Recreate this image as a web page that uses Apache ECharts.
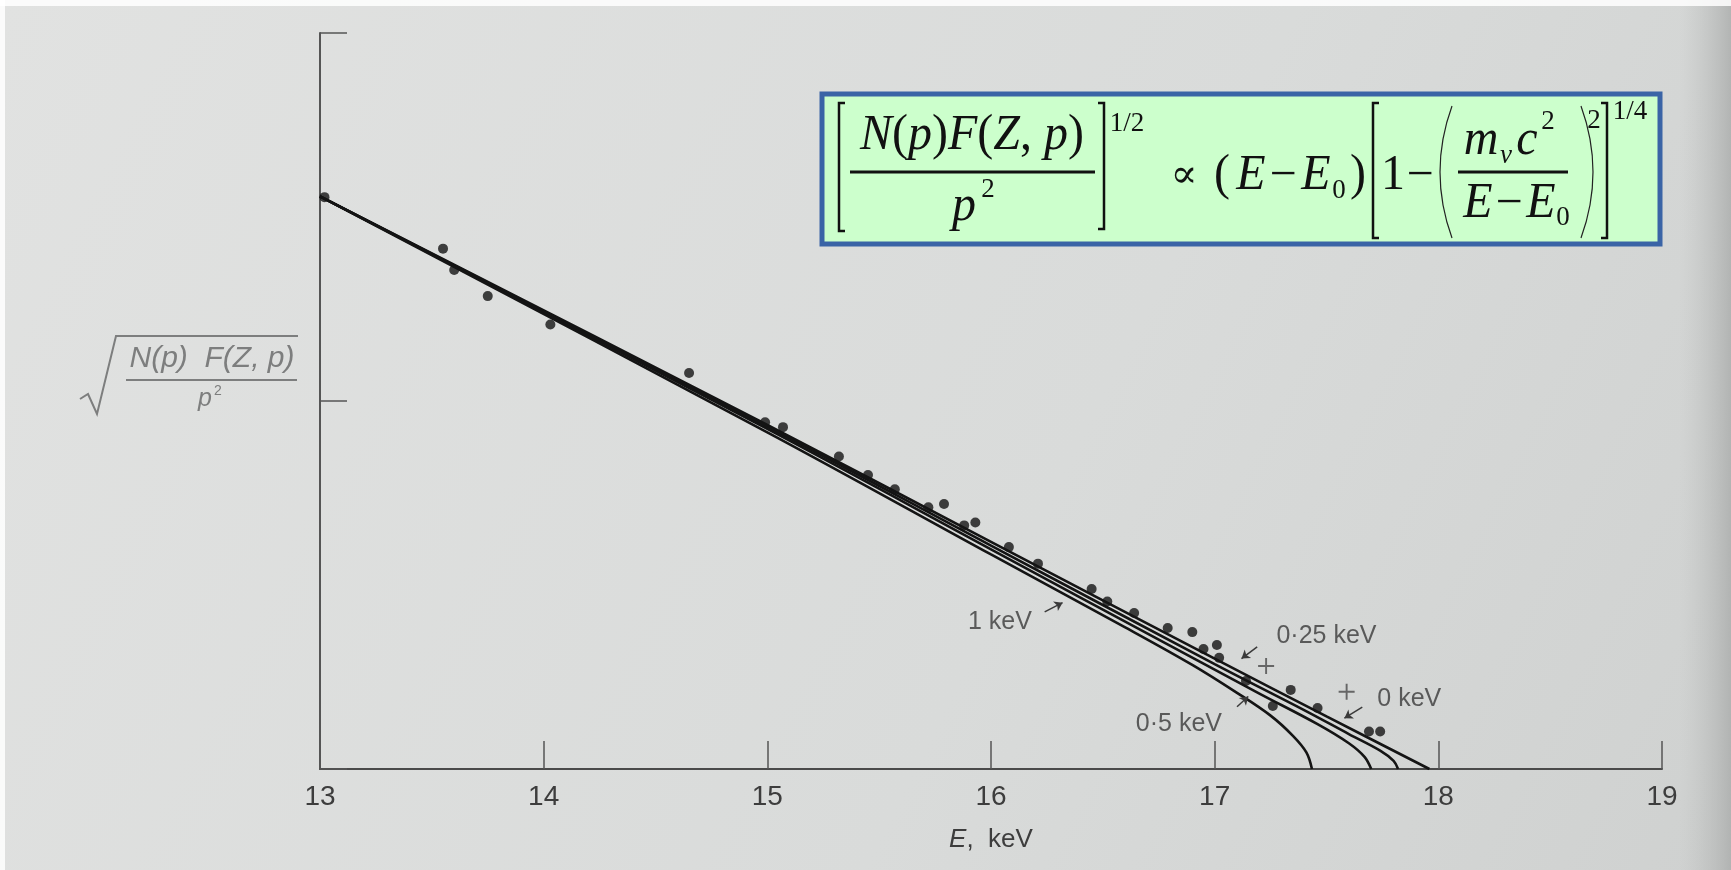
<!DOCTYPE html>
<html><head><meta charset="utf-8">
<script src="https://cdn.jsdelivr.net/npm/echarts@6/dist/echarts.min.js"></script>
<style>html,body{margin:0;padding:0;background:#dcdedd}#c{width:1731px;height:870px}</style>
</head><body><div id="c"></div><script>
// ---------- data ----------
const xTickLabels = ['13','14','15','16','17','18','19'];
const dotE = [13.02,13.55,13.60,13.75,14.03,14.65,14.99,15.07,15.32,15.45,15.57,15.72,15.79,15.88,15.93,16.08,16.21,16.45,16.52,16.64,16.79,16.90,16.95,17.01,17.02,17.14,17.26,17.34,17.46,17.69,17.74];
const dotY = [1.554,1.414,1.356,1.285,1.208,1.076,0.942,0.929,0.849,0.799,0.760,0.711,0.720,0.662,0.670,0.603,0.558,0.489,0.455,0.424,0.383,0.372,0.326,0.337,0.302,0.239,0.171,0.215,0.166,0.102,0.102];
const plusE = [17.23, 17.59];
const plusY = [0.280, 0.210];
const curve0E = [13.0, 15.0, 16.0, 17.0, 17.5, 17.96];
const curve0Y = [1.556, 0.935, 0.617, 0.300, 0.143, 0];
const curve025E = [13.0, 15.0, 16.0, 17.0, 17.4, 17.6, 17.74, 17.80, 17.82];
const curve025Y = [1.556, 0.930, 0.607, 0.285, 0.160, 0.095, 0.050, 0.022, 0];
const curve05E = [13.0, 15.0, 16.0, 16.8, 17.2, 17.46, 17.60, 17.67, 17.70];
const curve05Y = [1.556, 0.924, 0.597, 0.335, 0.205, 0.122, 0.070, 0.033, 0];
const curve1E = [13.0, 15.0, 16.0, 16.6, 16.9, 17.1, 17.25, 17.35, 17.41, 17.435];
const curve1Y = [1.556, 0.915, 0.583, 0.385, 0.283, 0.207, 0.145, 0.090, 0.045, 0];
const annText = ['1 keV', '0·25 keV', '0·5 keV', '0 keV'];
const annE = [16.04, 17.50, 16.84, 17.87];
const annY = [0.398, 0.361, 0.122, 0.190];
const arrowFromE = [16.24, 17.19, 17.10, 17.66];
const arrowFromY = [0.427, 0.332, 0.169, 0.168];
const arrowToE = [16.32, 17.12, 17.15, 17.58];
const arrowToY = [0.452, 0.300, 0.197, 0.138];

const zip = (a, b) => a.map((v, i) => [v, b[i]]);
const ink = '#141414';
const curveStyle = {color: ink, width: 2.6};
const mkCurve = (name, e, y) => ({
  name, type: 'line', data: zip(e, y), showSymbol: false, smooth: 0.35,
  lineStyle: curveStyle, silent: true, z: 3
});

const serif = 'Liberation Serif';
const FS = 48;
const fIt = {fontStyle: 'italic', fontSize: FS, fontFamily: serif, fill: '#111'};
const fRm = {fontSize: FS, fontFamily: serif, fill: '#111'};
const fSm = {fontSize: 27, fontFamily: serif, fill: '#111'};
function T(x, y, text, style, extra) {
  return Object.assign({type: 'text', x, y, z: 20,
    style: Object.assign({text, align: 'center', verticalAlign: 'middle', textAlign: 'center', textVerticalAlign: 'middle'}, style)}, extra || {});
}
function bracket(x0, x1, y0, y1) {
  return {type: 'polyline', z: 20, shape: {points: [[x1, y0], [x0, y0], [x0, y1], [x1, y1]]}, style: {stroke: '#111', lineWidth: 2.5, fill: null}};
}
function paren(xEdge, xMid, y0, y1) {
  return {type: 'bezierCurve', z: 20, shape: {x1: xEdge, y1: y0, x2: xEdge, y2: y1, cpx1: xMid, cpy1: (y0 * 2 + y1) / 3, cpx2: xMid, cpy2: (y0 + y1 * 2) / 3}, style: {stroke: '#222', lineWidth: 1.2, fill: null}};
}
function hline(x0, x1, y, w, c) {
  return {type: 'line', z: 20, shape: {x1: x0, y1: y, x2: x1, y2: y}, style: {stroke: c || '#111', lineWidth: w || 3}};
}
const rich = {
  i: {fontStyle: 'italic', fontSize: FS, fontFamily: serif},
  r: {fontSize: FS, fontFamily: serif}
};
const tall = {scaleY: 1.06};

const formula = [
  {type: 'rect', z: 19, shape: {x: 822, y: 94, width: 838, height: 150}, style: {fill: '#ccffcc', stroke: '#3a64a6', lineWidth: 5}},
  bracket(839, 845, 103, 231),
  T(972, 136, '{i|N}{r|(}{i|p}{r|)}{i|F}{r|(}{i|Z}{r|, }{i|p}{r|)}', {rich, fill: '#111'}, tall),
  hline(850, 1095, 172, 3),
  T(964, 207, 'p', fIt, tall),
  T(988, 190, '2', fSm),
  bracket(1104, 1098, 103, 229),
  T(1127, 124, '1/2', fSm),
  T(1184, 177, '∝', {fontSize: 40, fontFamily: 'DejaVu Serif', fill: '#111'}),
  T(1222, 176, '(', fRm, tall), T(1358, 176, ')', fRm, tall),
  T(1251, 176, 'E', fIt, tall), T(1283, 176, '−', fRm), T(1316, 176, 'E', fIt, tall),
  T(1339, 191, '0', fSm),
  bracket(1373, 1379, 103, 238),
  T(1393, 176, '1', fRm, tall), T(1420, 176, '−', fRm),
  paren(1452, 1436, 106, 238),
  paren(1581, 1597, 106, 238),
  T(1481, 141, 'm', fIt, tall),
  T(1506, 156, 'ν', {fontStyle: 'italic', fontSize: 27, fontFamily: serif, fill: '#111'}),
  T(1527, 141, 'c', fIt, tall),
  T(1548, 122, '2', fSm),
  hline(1458, 1568, 172, 3),
  T(1478, 204, 'E', fIt, tall), T(1509, 204, '−', fRm), T(1541, 204, 'E', fIt, tall),
  T(1563, 218, '0', fSm),
  T(1594, 121, '2', fSm),
  bracket(1607, 1601, 103, 238),
  T(1630, 112, '1/4', fSm)
];

const labGray = '#7d7e7e';
const yLabel = [
  {type: 'polyline', z: 10, shape: {points: [[80, 399], [88, 394], [97, 414], [116, 336], [298, 336]]}, style: {stroke: labGray, lineWidth: 2, fill: null}},
  T(212, 359, 'N(p)  F(Z, p)', {fontStyle: 'italic', fontSize: 30, fontFamily: 'Liberation Sans', fill: labGray}),
  hline(126, 297, 380, 2, labGray),
  T(205, 399, 'p', {fontStyle: 'italic', fontSize: 25, fontFamily: 'Liberation Sans', fill: labGray}),
  T(218, 391, '2', {fontSize: 14, fontFamily: 'Liberation Sans', fill: labGray})
];

const chart = echarts.init(document.getElementById('c'));
chart.setOption({
  animation: false,
  backgroundColor: {type: 'linear', x: 0, y: 0, x2: 1, y2: 1, colorStops: [
    {offset: 0, color: '#e1e2e1'}, {offset: 0.6, color: '#d9dbda'}, {offset: 1, color: '#cfd1d0'}]},
  grid: {left: 320, right: 69, top: 33, bottom: 101},
  xAxis: {
    type: 'value', min: 13, max: 19, interval: 1,
    axisLine: {show: true, lineStyle: {color: '#4a4a4a', width: 2}},
    axisTick: {show: true, inside: true, length: 28, lineStyle: {color: '#555', width: 1.5}},
    axisLabel: {fontSize: 28, color: '#3d3d3d', fontFamily: 'Liberation Sans', margin: 14,
      formatter: v => xTickLabels[Math.round(v - 13)]},
    splitLine: {show: false},
    name: '{i|E},  keV', nameLocation: 'middle', nameGap: 58,
    nameTextStyle: {fontSize: 26, color: '#3d3d3d', fontFamily: 'Liberation Sans', rich: {i: {fontStyle: 'italic', fontSize: 26, color: '#3d3d3d', fontFamily: 'Liberation Sans'}}}
  },
  yAxis: {
    type: 'value', min: 0, max: 2, interval: 1,
    axisLine: {show: true, lineStyle: {color: '#555', width: 2}},
    axisTick: {show: true, inside: true, length: 27, lineStyle: {color: '#555', width: 1.5}},
    axisLabel: {show: false}, splitLine: {show: false}
  },
  series: [
    mkCurve('0 keV', curve0E, curve0Y),
    mkCurve('0.25 keV', curve025E, curve025Y),
    mkCurve('0.5 keV', curve05E, curve05Y),
    mkCurve('1 keV', curve1E, curve1Y),
    {type: 'scatter', data: zip(dotE, dotY), symbolSize: 10, itemStyle: {color: ink}, z: 4, silent: true},
    {type: 'scatter', data: zip(plusE, plusY), symbol: 'path://M4.4,0H5.6V4.4H10V5.6H5.6V10H4.4V5.6H0V4.4H4.4Z', symbolSize: 16, itemStyle: {color: '#4a4a4a'}, z: 4, silent: true},
    {type: 'scatter', silent: true, z: 5,
      data: annE.map((e, i) => ({value: [e, annY[i]], name: annText[i]})),
      symbolSize: 0,
      label: {show: true, position: 'inside', formatter: p => p.name, fontSize: 25, color: '#3a3a3a', fontFamily: 'Liberation Sans'},
      markLine: {silent: true, symbol: ['none', 'arrow'], symbolSize: 8, label: {show: false},
        lineStyle: {color: '#3a3a3a', width: 1.5, type: 'solid'},
        data: arrowFromE.map((e, i) => [{coord: [e, arrowFromY[i]]}, {coord: [arrowToE[i], arrowToY[i]]}])}
    }
  ],
  graphic: [
    {type: 'rect', z: 0, shape: {x: 1680, y: 0, width: 51, height: 870}, style: {fill: {type: 'linear', x: 0, y: 0, x2: 1, y2: 0, colorStops: [{offset: 0, color: 'rgba(190,192,191,0)'}, {offset: 1, color: 'rgba(170,172,171,0.8)'}]}}},
    {type: 'rect', z: 0, shape: {x: 0, y: 0, width: 1731, height: 6}, style: {fill: 'rgba(255,255,255,0.85)'}},
    {type: 'rect', z: 0, shape: {x: 0, y: 0, width: 5, height: 870}, style: {fill: 'rgba(255,255,255,0.85)'}}
  ].concat(yLabel, formula)
});
</script></body></html>
